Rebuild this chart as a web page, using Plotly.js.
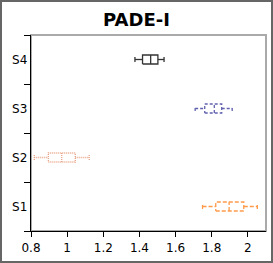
<!DOCTYPE html>
<html><head><meta charset="utf-8">
<script src="https://cdn.plot.ly/plotly-3.0.1.min.js"></script>
<style>
html,body{margin:0;padding:0;background:#fff;}
#wrap{width:273px;height:263px;box-sizing:border-box;border:2px solid #666;}
#chart{width:269px;height:259px;}
</style></head>
<body><div id="wrap"><div id="chart"></div></div>
<script>
// Category labels (bottom to top)
const categories = ["S1", "S2", "S3", "S4"];
// Box statistics per category
const mins    = [1.749, 0.818, 1.708, 1.375];
const q1s     = [1.822, 0.896, 1.761, 1.417];
const medians = [1.896, 0.970, 1.814, 1.462];
const q3s     = [1.977, 1.045, 1.855, 1.502];
const maxs    = [2.052, 1.122, 1.913, 1.536];
const xTicks  = [0.8, 1, 1.2, 1.4, 1.6, 1.8, 2];

const colors = ["#ff9a4a", "#e8a486", "#6262b0", "#333333"];
const dashes = ["4px,2px", "1px,1px", "3px,2px", "solid"];
const halfBox = 0.092, halfCap = 0.05;

const traces = categories.map((c, i) => {
  const y = i;
  const x = [q1s[i], q3s[i], q3s[i], q1s[i], q1s[i], null,
             medians[i], medians[i], null,
             mins[i], q1s[i], null, q3s[i], maxs[i], null,
             mins[i], mins[i], null, maxs[i], maxs[i]];
  const yy = [y-halfBox, y-halfBox, y+halfBox, y+halfBox, y-halfBox, null,
              y-halfBox, y+halfBox, null,
              y, y, null, y, y, null,
              y-halfCap, y+halfCap, null, y-halfCap, y+halfCap];
  return {type: "scatter", mode: "lines", x: x, y: yy, name: c,
          line: {color: colors[i], width: 1.3, dash: dashes[i]},
          connectgaps: false, hoverinfo: "skip", showlegend: false};
});

const layout = {
  width: 269, height: 259,
  margin: {l: 29, r: 5, t: 33, b: 30},
  paper_bgcolor: "#fff", plot_bgcolor: "#fff",
  title: {text: "<b>PADE-I</b>", x: 0.5, xref: "container", y: 0.93, yref: "container",
          yanchor: "middle",
          font: {family: "DejaVu Sans", size: 18, color: "#000"}},
  font: {family: "DejaVu Sans", size: 12, color: "#000"},
  xaxis: {range: [0.8, 2.1], tickvals: xTicks, ticktext: xTicks.map(String),
          showgrid: false, zeroline: false, showline: true, linecolor: "#000", linewidth: 1.3,
          ticks: "outside", ticklen: 5, tickcolor: "#000", tickfont: {size: 12}},
  yaxis: {range: [-0.5, 3.5], tickvals: [0, 1, 2, 3], ticktext: categories,
          showgrid: false, zeroline: false, showline: true, linecolor: "#000", linewidth: 1.3,
          ticks: "", tickfont: {size: 12},
          minor: {tickvals: [-0.5, 0.5, 1.5, 2.5, 3.5], ticks: "outside", ticklen: 6,
                  tickcolor: "#000", tickwidth: 1, showgrid: false}},
  shapes: [{type: "rect", xref: "paper", yref: "paper", x0: 0, x1: 1, y0: 0, y1: 1,
            line: {color: "#aaa", width: 2}, layer: "below"}]
};

Plotly.newPlot("chart", traces, layout, {staticPlot: true, displayModeBar: false});
</script></body></html>
